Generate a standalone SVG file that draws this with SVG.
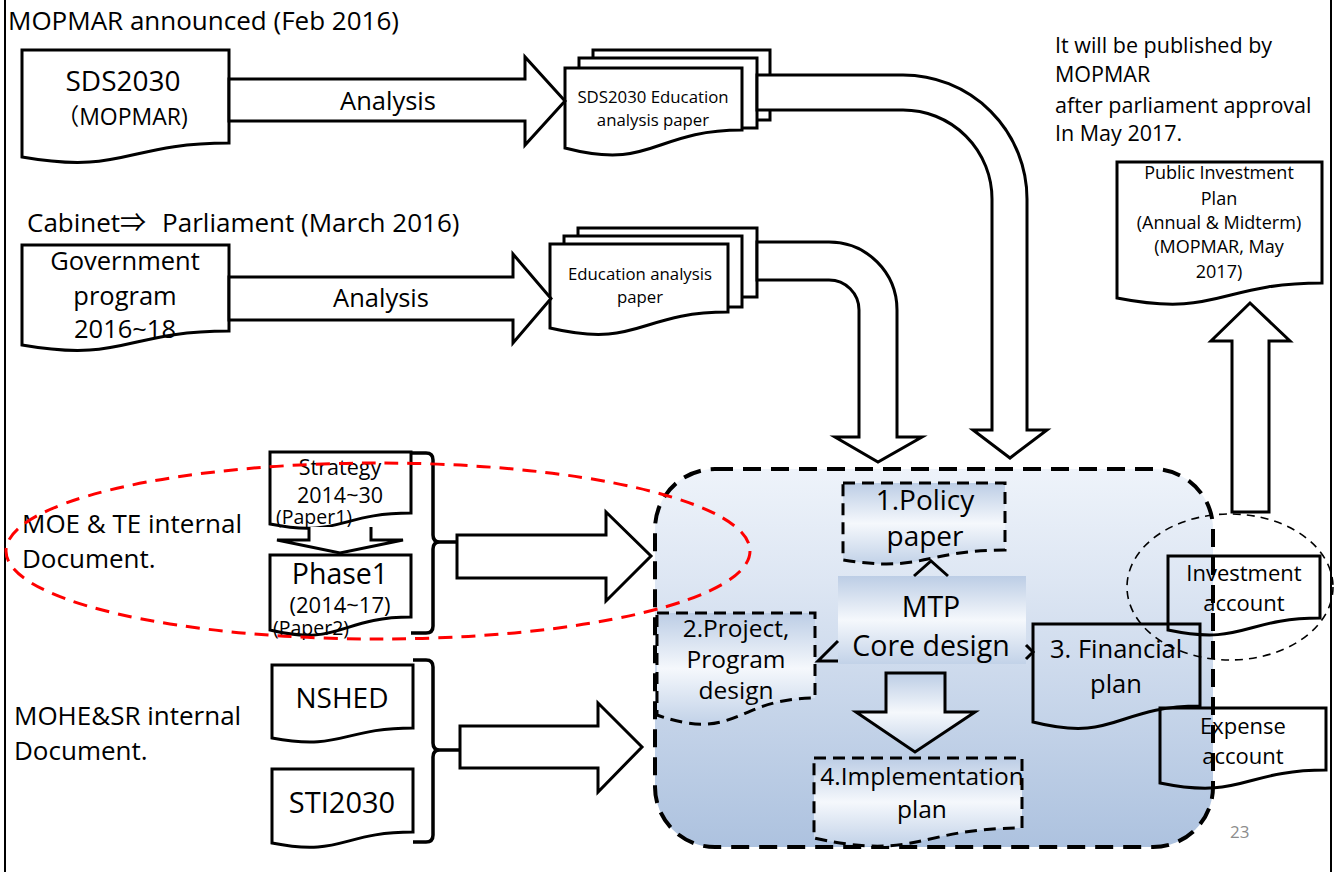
<svg xmlns="http://www.w3.org/2000/svg" width="1335" height="872" viewBox="0 0 1335 872">
<style>
.t{font-family:"Open Sans","Liberation Sans","Noto Sans CJK JP",sans-serif;fill:#000}
.m{text-anchor:middle}
.box{fill:#fff;stroke:#000;stroke-width:3;stroke-linejoin:miter}
.open{fill:none;stroke:#000;stroke-width:3}
.dash{stroke:#000;stroke-width:3;stroke-dasharray:12 7}
.arr{fill:#fff;stroke:#000;stroke-width:3;stroke-linejoin:miter}
.brace{fill:none;stroke:#000;stroke-width:3.5;stroke-linejoin:round}
</style>
<defs>
<linearGradient id="gBig" x1="0" y1="0" x2="0" y2="1">
<stop offset="0" stop-color="#eef3fa"/>
<stop offset="0.3" stop-color="#dde6f3"/>
<stop offset="1" stop-color="#adc2df"/>
</linearGradient>
<linearGradient id="gBox" x1="0" y1="0" x2="0" y2="1">
<stop offset="0" stop-color="#bccde5"/>
<stop offset="0.5" stop-color="#f5f8fc"/>
<stop offset="1" stop-color="#c2d2e8"/>
</linearGradient>
</defs>

<g id="frame">
<line x1="5" y1="0" x2="5" y2="872" stroke="#000" stroke-width="2"/>
<line x1="1331" y1="0" x2="1331" y2="872" stroke="#000" stroke-width="2"/>
</g>

<g id="labels">
<text class="t" x="8" y="30" font-size="26">MOPMAR announced (Feb 2016)</text>
<text class="t" x="27" y="232" font-size="26">Cabinet⇒<tspan dx="16">Parliament (March 2016)</tspan></text>
<text class="t" x="1055" y="53" font-size="21.5">It will be published by</text>
<text class="t" x="1055" y="82" font-size="21.5">MOPMAR</text>
<text class="t" x="1055" y="113" font-size="21.5">after parliament approval</text>
<text class="t" x="1055" y="141" font-size="21.5">In May 2017.</text>
<text class="t" x="22" y="533" font-size="26">MOE &amp; TE internal</text>
<text class="t" x="22" y="568" font-size="26">Document.</text>
<text class="t" x="14" y="725" font-size="26">MOHE&amp;SR internal</text>
<text class="t" x="14" y="760" font-size="26">Document.</text>
<text class="t" x="1230" y="838" font-size="17" style="fill:#8c8c8c">23</text>
</g>

<g id="mtp-area">
<rect x="655" y="469" width="558" height="378" rx="60" ry="60" fill="url(#gBig)" stroke="#000" stroke-width="4" stroke-dasharray="18 10"/>
</g>

<g id="policy-paper">
<path d="M843,483 H1005 V550 C924,550 924,573 843,560 Z" fill="url(#gBox)" class="dash"/>
<text class="t m" x="925" y="510" font-size="28">1.Policy</text>
<text class="t m" x="925" y="546" font-size="28">paper</text>
</g>

<g id="project-design">
<path d="M657,613 H815 V698 C736,698 736,743 657,715 Z" fill="url(#gBox)" class="dash"/>
<text class="t m" x="736" y="637" font-size="24.5">2.Project,</text>
<text class="t m" x="736" y="668" font-size="24.5">Program</text>
<text class="t m" x="736" y="699" font-size="24.5">design</text>
</g>

<g id="implementation-plan">
<path d="M814,758 H1022 V828 C918,828 918,861 814,838 Z" fill="url(#gBox)" class="dash"/>
<text class="t m" x="922" y="785" font-size="24.5">4.Implementation</text>
<text class="t m" x="922" y="818" font-size="24.5">plan</text>
</g>

<g id="financial-plan">
<path d="M1033,624 H1200 V706 C1116,706 1116,743 1033,722 Z" class="open"/>
<text class="t" x="1050" y="658" font-size="25.5">3. Financial</text>
<text class="t m" x="1116" y="693" font-size="25.5">plan</text>
</g>

<g id="investment-account">
<path d="M1168,556 H1320 V618 C1244,618 1244,646 1168,630 Z" class="open"/>
<text class="t m" x="1244" y="581" font-size="22">Investment</text>
<text class="t m" x="1244" y="611" font-size="22">account</text>
</g>

<g id="expense-account">
<path d="M1160,708 H1326 V770 C1243,770 1243,800 1160,783 Z" class="open"/>
<text class="t m" x="1243" y="734" font-size="22">Expense</text>
<text class="t m" x="1243" y="764" font-size="22">account</text>
</g>

<g id="sds2030">
<path d="M22,50 H229 V143 C125,143 125,175 22,157 Z" class="box"/>
<text class="t m" x="123" y="91" font-size="28">SDS2030</text>
<text class="t m" x="122" y="125" font-size="23">（MOPMAR)</text>
</g>

<g id="sds-education-paper">
<rect x="593" y="50" width="177" height="70" class="box"/>
<rect x="579" y="58" width="178" height="70" class="box"/>
<path d="M565,68 H742 V130 C653,130 653,171 565,148 Z" class="box"/>
<text class="t m" x="653" y="103" font-size="16.8">SDS2030 Education</text>
<text class="t m" x="653" y="126" font-size="16.8">analysis paper</text>
</g>

<g id="government-program">
<path d="M22,245 H229 V331 C125,331 125,363 22,345 Z" class="box"/>
<text class="t m" x="125" y="270" font-size="25.5">Government</text>
<text class="t m" x="125" y="305" font-size="25.5">program</text>
<text class="t m" x="125" y="338" font-size="25.5">2016~18</text>
</g>

<g id="education-paper">
<rect x="578" y="228" width="179" height="69" class="box"/>
<rect x="564" y="236" width="178" height="71" class="box"/>
<path d="M550,244 H728 V312 C639,312 639,349 550,328 Z" class="box"/>
<text class="t m" x="640" y="280" font-size="16.8">Education analysis</text>
<text class="t m" x="640" y="303" font-size="16.8">paper</text>
</g>

<g id="public-investment-plan">
<path d="M1117,162 H1322 V283 C1219,283 1219,318 1117,298 Z" class="box"/>
<text class="t m" x="1219" y="179" font-size="18">Public Investment</text>
<text class="t m" x="1219" y="205" font-size="18">Plan</text>
<text class="t m" x="1219" y="229" font-size="18">(Annual &amp; Midterm)</text>
<text class="t m" x="1219" y="253" font-size="18">(MOPMAR, May</text>
<text class="t m" x="1219" y="278" font-size="18">2017)</text>
</g>

<g id="strategy">
<path d="M270,452 H411 V513 C340,513 340,538 270,524 Z" class="box"/>
<text class="t m" x="340" y="475" font-size="21.5">Strategy</text>
<text class="t m" x="340" y="503" font-size="21.5">2014~30</text>
<text class="t" x="276" y="524" font-size="19.5">(Paper1)</text>
</g>

<g id="phase1">
<path d="M270,555 H411 V617 C340,617 340,647 270,630 Z" class="box"/>
<text class="t m" x="340" y="584" font-size="28.5">Phase1</text>
<text class="t m" x="340" y="613" font-size="22">(2014~17)</text>
<text class="t" x="273" y="635" font-size="19.5">(Paper2)</text>
</g>

<g id="nshed">
<path d="M272,665 H413 V728 C342,728 342,751 272,738 Z" class="box"/>
<text class="t m" x="342" y="708" font-size="28">NSHED</text>
</g>

<g id="sti2030">
<path d="M272,769 H413 V832 C342,832 342,857 272,843 Z" class="box"/>
<text class="t m" x="342" y="813" font-size="29">STI2030</text>
</g>

<g id="mtp-core">
<rect x="838" y="576" width="188" height="88" fill="url(#gBox)"/>
<text class="t m" x="931" y="617" font-size="28.5">MTP</text>
<text class="t m" x="931" y="656" font-size="28.5">Core design</text>
</g>

<g id="connectors">
<path d="M229,79 H525 V57 L565,101 L525,145 V121 H229 Z" class="arr"/>
<text class="t m" x="388" y="110" font-size="25.5">Analysis</text>
<path d="M229,277 H513 V254 L551,298.5 L513,343 V320 H229 Z" class="arr"/>
<text class="t m" x="381" y="307" font-size="25.5">Analysis</text>
<path d="M757,75 H903 A124,124 0 0 1 1027,199 V430 H1047 L1010,458 L973,430 H992 V199 A89,89 0 0 0 903,110 H757 Z" class="arr"/>
<path d="M757,242 H829 A68,68 0 0 1 897,310 V437 H922 L878,462 L835,437 H859 V310 A30,30 0 0 0 829,280 H757 Z" class="arr"/>
<path d="M309,527 V540 H277 L340,553 L403,540 H371 V527" class="arr"/>
<path d="M411,453 H426 Q433,453 433,460 V535 Q433,542 440,542 H457 M440,542 Q433,542 433,549 V626 Q433,633 426,633 H411" class="brace"/>
<path d="M457,535 H606 V512 L651,556 L606,601 V578 H457 Z" class="arr"/>
<path d="M413,660 H426 Q433,660 433,667 V743 Q433,750 440,750 H460 M440,750 Q433,750 433,757 V835 Q433,842 426,842 H413" class="brace"/>
<path d="M460,726 H598 V703 L642,747 L598,792 V768 H460 Z" class="arr"/>
<path d="M1232,512 V341 H1211 L1250,303 L1290,341 H1269 V512 Z" class="arr"/>
<path d="M886,673 H945 V712 H975 L915,752 L856,712 H886 Z" fill="url(#gBox)" stroke="#000" stroke-width="3"/>
<path d="M914,576 L931,561 L948,576" class="open"/>
<path d="M838,641 L818,661 H838" class="open"/>
<path d="M1026,645 L1033,652 L1026,659" class="open"/>
</g>

<g id="groupings">
<ellipse cx="378" cy="551" rx="372" ry="88" fill="none" stroke="#ff0000" stroke-width="3" stroke-dasharray="14 9"/>
<ellipse cx="1230" cy="587" rx="103" ry="73" fill="none" stroke="#000" stroke-width="1.6" stroke-dasharray="8 6"/>
</g>
</svg>
